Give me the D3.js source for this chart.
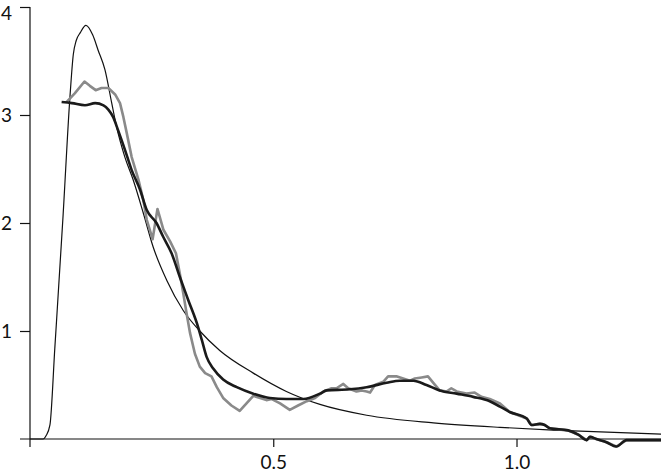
<!DOCTYPE html>
<html>
<head>
<meta charset="utf-8">
<script src="https://cdn.jsdelivr.net/npm/d3@7"></script>
<style>
  body { margin: 0; background: white; }
  text { font-family: Lato, "Open Sans", sans-serif; }
</style>
</head>
<body>
<div id="chart"></div>
<script>
var width = 661;
var height = 474;

// tick values
var xTicks = [0.5, 1.0];
var yTicks = [1, 2, 3, 4];

// thin curve (fitted density)
var theoryX = [0, 0.027, 0.033, 0.041, 0.051, 0.068, 0.082, 0.089, 0.095, 0.103, 0.115, 0.129, 0.140,
  0.154, 0.168, 0.178, 0.195, 0.212, 0.233, 0.253, 0.281, 0.315, 0.349, 0.390, 0.459, 0.527,
  0.596, 0.692, 0.829, 0.966, 1.075, 1.297];
var theoryY = [0, 0, 0.03, 0.13, 0.84, 2.07, 3.16, 3.56, 3.69, 3.76, 3.83, 3.74, 3.60,
  3.42, 3.11, 2.89, 2.61, 2.40, 2.09, 1.78, 1.47, 1.19, 1.00, 0.82, 0.61, 0.44,
  0.32, 0.22, 0.15, 0.108, 0.083, 0.045];

// grey curve (raw estimate)
var rawX = [0.075, 0.092, 0.112, 0.123, 0.135, 0.147, 0.161, 0.175, 0.185, 0.192, 0.199, 0.209, 0.223,
  0.233, 0.240, 0.252, 0.262, 0.274, 0.288, 0.300, 0.308, 0.315, 0.322, 0.329, 0.339, 0.349,
  0.360, 0.373, 0.384, 0.397, 0.414, 0.431, 0.445, 0.459, 0.473, 0.486, 0.497, 0.514, 0.534,
  0.551, 0.569, 0.586, 0.603, 0.620, 0.630, 0.644, 0.654, 0.671, 0.682, 0.692, 0.699, 0.709,
  0.726, 0.736, 0.753, 0.767, 0.781, 0.791, 0.805, 0.818, 0.829, 0.842, 0.856, 0.866, 0.877,
  0.897, 0.914, 0.928, 0.945, 0.966, 0.986, 1.021, 1.031, 1.048, 1.058, 1.068, 1.106, 1.127,
  1.144, 1.151, 1.164, 1.185, 1.205, 1.226, 1.297];
var rawY = [3.12, 3.20, 3.31, 3.27, 3.23, 3.25, 3.25, 3.19, 3.11, 2.98, 2.83, 2.61, 2.40,
  2.21, 2.03, 1.85, 2.13, 1.94, 1.83, 1.72, 1.53, 1.35, 1.16, 0.98, 0.79, 0.67,
  0.61, 0.58, 0.48, 0.38, 0.31, 0.26, 0.33, 0.40, 0.38, 0.36, 0.37, 0.33, 0.27,
  0.31, 0.35, 0.38, 0.44, 0.47, 0.47, 0.51, 0.47, 0.44, 0.45, 0.44, 0.43, 0.50,
  0.53, 0.58, 0.58, 0.56, 0.54, 0.56, 0.57, 0.58, 0.52, 0.45, 0.44, 0.47, 0.44,
  0.42, 0.43, 0.39, 0.37, 0.33, 0.25, 0.19, 0.13, 0.14, 0.13, 0.10, 0.08, 0.04,
  -0.01, 0.02, 0.00, -0.03, -0.07, -0.01, -0.01];

// thick black curve (smoothed estimate)
var smoothX = [0.065, 0.086, 0.113, 0.134, 0.151, 0.161, 0.171, 0.181, 0.195, 0.209, 0.226, 0.240,
  0.260, 0.274, 0.291, 0.308, 0.325, 0.346, 0.353, 0.363, 0.377, 0.397, 0.425, 0.459, 0.493,
  0.527, 0.562, 0.596, 0.610, 0.657, 0.692, 0.733, 0.760, 0.788, 0.815, 0.842, 0.877, 0.911,
  0.945, 0.966, 0.986, 1.021, 1.031, 1.048, 1.058, 1.068, 1.106, 1.127, 1.144, 1.151, 1.164,
  1.185, 1.205, 1.226, 1.297];
var smoothY = [3.12, 3.11, 3.09, 3.11, 3.09, 3.05, 2.98, 2.86, 2.68, 2.49, 2.31, 2.12,
  2.00, 1.87, 1.72, 1.50, 1.29, 1.03, 0.92, 0.76, 0.65, 0.55, 0.48, 0.42, 0.38,
  0.37, 0.37, 0.42, 0.45, 0.46, 0.48, 0.52, 0.54, 0.54, 0.50, 0.45, 0.42, 0.39,
  0.35, 0.30, 0.25, 0.19, 0.13, 0.14, 0.13, 0.10, 0.08, 0.04, -0.01, 0.02, 0.00,
  -0.03, -0.07, -0.01, -0.01];

var svg = d3.select("#chart")
  .append("svg")
  .attr("width", width)
  .attr("height", height);

var x = d3.scaleLinear().domain([0, 1.297]).range([30, 661]);
var y = d3.scaleLinear().domain([0, 4]).range([439, 7]);

function pairs(xs, ys) {
  return xs.map(function (d, i) { return [d, ys[i]]; });
}

// axes
var yAxis = svg.append("g")
  .attr("transform", "translate(30,0)")
  .call(d3.axisLeft(y).tickValues(yTicks).tickSize(10).tickPadding(8).tickFormat(d3.format("d")));
var xAxis = svg.append("g")
  .attr("transform", "translate(0,439)")
  .call(d3.axisBottom(x).tickValues(xTicks).tickSize(8).tickPadding(9).tickFormat(d3.format(".1f")));

[yAxis, xAxis].forEach(function (g) {
  g.select(".domain").remove();
  g.selectAll(".tick line").attr("stroke", "#111").attr("stroke-width", 1.2);
  g.selectAll(".tick text").attr("fill", "#111").style("font-size", "19px");
});
// top label sits a little low so it stays inside the frame
yAxis.selectAll(".tick text").filter(function (d) { return d === 4; }).attr("y", 6);

svg.append("line")
  .attr("x1", 30).attr("x2", 30).attr("y1", y(4)).attr("y2", 447)
  .attr("stroke", "#111").attr("stroke-width", 1.2);
svg.append("line")
  .attr("x1", 20).attr("x2", width).attr("y1", y(0)).attr("y2", y(0))
  .attr("stroke", "#111").attr("stroke-width", 1.2);

var smoothLine = d3.line()
  .x(function (d) { return x(d[0]); })
  .y(function (d) { return y(d[1]); })
  .curve(d3.curveMonotoneX);
var rawLine = d3.line()
  .x(function (d) { return x(d[0]); })
  .y(function (d) { return y(d[1]); });

svg.append("path")
  .attr("d", smoothLine(pairs(theoryX, theoryY)))
  .attr("fill", "none").attr("stroke", "#111").attr("stroke-width", 1.2);

svg.append("path")
  .attr("d", rawLine(pairs(rawX, rawY)))
  .attr("fill", "none").attr("stroke", "#8a8a8a").attr("stroke-width", 2.6)
  .attr("stroke-linejoin", "round");

svg.append("path")
  .attr("d", smoothLine(pairs(smoothX, smoothY)))
  .attr("fill", "none").attr("stroke", "#1a1a1a").attr("stroke-width", 2.6)
  .attr("stroke-linejoin", "round");
</script>
</body>
</html>
